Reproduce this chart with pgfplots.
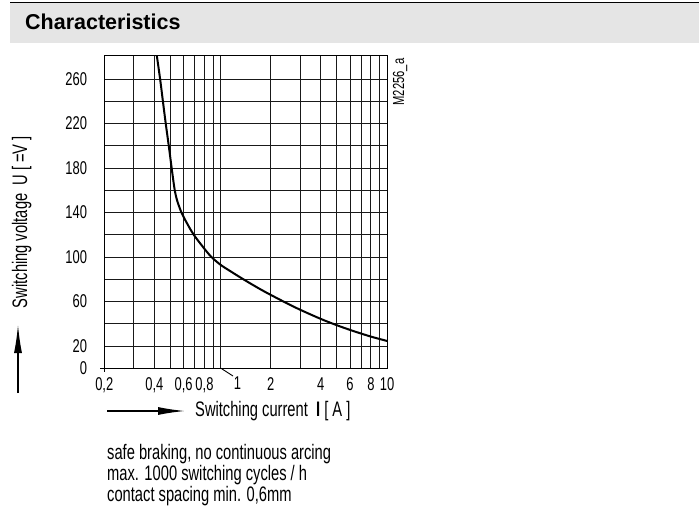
\documentclass[border=0pt]{standalone}
\usepackage{fontspec}
\setmainfont{Liberation Sans}[FakeStretch=0.70]
\newfontfamily\headfont{Liberation Sans}
\usepackage{pgfplots}
\pgfplotsset{compat=1.18}
\usetikzlibrary{arrows.meta}

\newcommand\tickfont{\fontsize{18.5bp}{21bp}\selectfont}
\newcommand\labelfont{\fontsize{21bp}{24bp}\selectfont}

\begin{document}
\begin{tikzpicture}
% page frame
\path[use as bounding box] (0,0) rectangle (699bp,-506bp);

% heading band
\fill[gray!20] (10bp,-3bp) rectangle (699bp,-42.5bp);
\draw[line width=1.2bp] (10bp,-2.6bp) -- (699bp,-2.6bp);
\node[anchor=base west, inner sep=0pt, font=\headfont\bfseries\fontsize{21.5bp}{24bp}\selectfont]
  at (25bp,-29bp) {Characteristics};

\begin{axis}[
  at={(104.3bp,-368.3bp)}, anchor=south west,
  scale only axis, width=282.7bp, height=313.3bp,
  xmode=log, xmin=0.2, xmax=10,
  ymin=0, ymax=281.6,
  xtick={0.2,0.4,0.6,0.8,1,2,4,6,8,10},
  xticklabels={{0,2},{0,4},{0,6},{0,8},{},2,4,6,8,10},
  minor xtick={0.3,0.5,0.7,0.9,3,5,7,9},
  ytick={0,20,60,100,140,180,220,260},
  minor ytick={40,80,120,160,200,240},
  grid=both,
  grid style={black!90, line width=0.9bp},
  minor grid style={black!90, line width=0.9bp},
  axis line style={black, line width=0.9bp},
  major tick length=0pt, minor tick length=0pt,
  /pgf/number format/assume math mode=true,
  tick label style={font=\tickfont, inner sep=0pt},
  yticklabel style={anchor=east, xshift=-17bp},
  xticklabel style={anchor=north, yshift=-9bp},
  clip=true,
]
\addplot[black, line width=2bp, smooth, tension=0.55] coordinates {
  (0.410,285) (0.433,260) (0.450,240) (0.468,220) (0.488,200)
  (0.508,180) (0.524,165) (0.535,157) (0.550,150) (0.582,140)
  (0.630,130) (0.690,120) (0.775,110) (0.875,100.5) (1.000,93)
  (1.150,87.1) (1.310,81.8) (1.500,76.5) (1.750,70.7) (2.000,66)
  (2.500,58.5) (3.000,52.7) (4.000,44.4) (5.000,38.7) (6.000,34.5)
  (7.000,31.2) (8.000,28.5) (9.000,26.4) (10.00,24.6)
};
\end{axis}

% corner stubs at the origin of the grid
\draw[line width=0.9bp] (100bp,-368.3bp) -- (104.3bp,-368.3bp);
\draw[line width=0.9bp] (104.3bp,-368.3bp) -- (104.3bp,-372bp);

% label of the 1 A gridline, set off with a leader
\draw[line width=0.9bp] (221bp,-368.3bp) -- (233bp,-376bp);
\node[anchor=north, inner sep=0pt, font=\tickfont] at (237.5bp,-377bp) {1};

% drawing number
\node[rotate=90, anchor=center, inner sep=0pt, font=\fontsize{16bp}{18bp}\selectfont]
  at (400bp,-82bp) {M2256\_a};

% axis captions with arrows
\draw[line width=1.3bp, -{Latex[length=27bp,width=8bp]}] (107bp,-411bp) -- (185bp,-411bp);
\node[anchor=base west, inner sep=0pt, font=\labelfont] at (195bp,-416.7bp)
  {Switching current\ \ \textbf{I}\ [\ A\ ]};
\draw[line width=1.3bp, -{Latex[length=28bp,width=8bp]}] (18bp,-393bp) -- (18bp,-325bp);
\node[rotate=90, anchor=base, inner sep=0pt, font=\labelfont] at (27bp,-222bp)
  {Switching voltage\ \ U\ [\ =V\ ]};

% notes
\node[anchor=base west, inner sep=0pt, font=\labelfont] at (107bp,-459bp)
  {safe braking, no continuous arcing};
\node[anchor=base west, inner sep=0pt, font=\labelfont] at (107bp,-480.5bp)
  {max. 1000 switching cycles / h};
\node[anchor=base west, inner sep=0pt, font=\labelfont] at (107bp,-501.5bp)
  {contact spacing min. 0,6mm};
\end{tikzpicture}
\end{document}
